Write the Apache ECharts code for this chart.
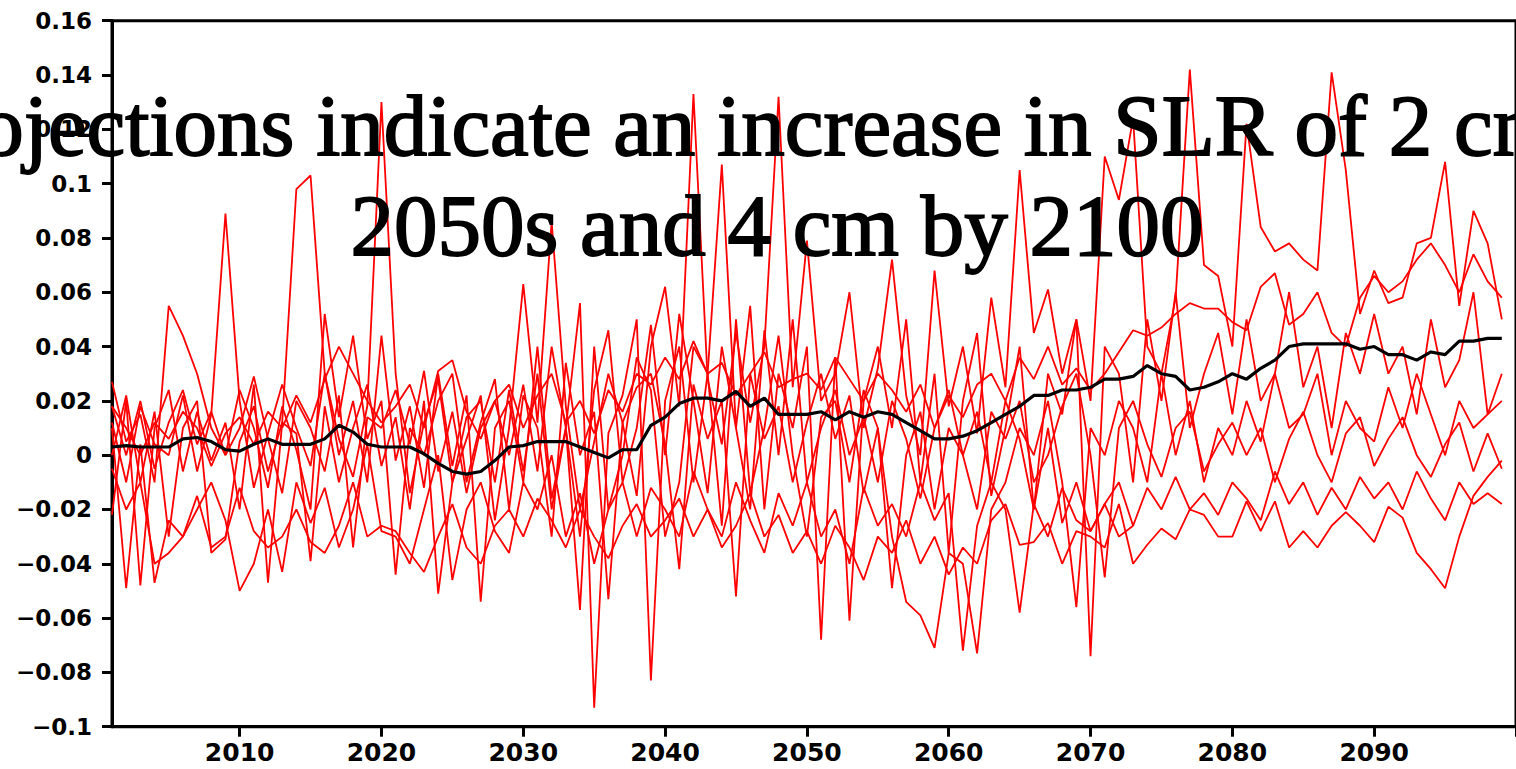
<!DOCTYPE html>
<html>
<head>
<meta charset="utf-8">
<script src="https://cdn.jsdelivr.net/npm/echarts@6/dist/echarts.min.js"></script>
<style>
html,body{margin:0;padding:0;background:#fff;}
#chart{width:1516px;height:769px;}
</style>
</head>
<body>
<div id="chart"></div>
<script>
// categories: years 2001..2100 (2100 has no data; it sets the axis end beyond the crop)
const years = [];
for (let y = 2001; y <= 2100; y++) years.push(String(y));

const yTickMin = -0.1, yTickMax = 0.16, yTickStep = 0.02;

const titleLine1 = 'Projections indicate an increase in SLR of 2 cm by';
const titleLine2 = '2050s and 4 cm by 2100';

// ensemble members (red), 2001..2099
const r1 = [0.012,-0.010,0.018,0.004,0.000,0.022,-0.006,0.015,0.089,0.020,
-0.012,0.008,0.026,0.010,-0.004,0.030,0.006,-0.008,0.018,0.130,
0.030,-0.014,0.012,0.028,-0.010,0.006,0.022,-0.024,0.010,0.063,
0.012,0.086,0.018,-0.020,0.005,0.030,0.012,-0.015,0.040,0.062,
0.018,0.133,0.028,0.004,0.045,0.012,0.040,0.132,0.025,0.079,
0.020,0.030,0.060,0.010,0.032,0.072,0.022,0.000,0.068,0.018,
0.040,0.008,0.058,0.025,0.105,0.045,0.061,0.030,0.050,0.020,
0.110,0.094,0.124,0.040,0.030,0.058,0.142,0.070,0.066,0.040,
0.122,0.084,0.075,0.078,0.072,0.068,0.141,0.105,0.052,0.068,
0.056,0.058,0.078,0.080,0.108,0.055,0.090,0.078,0.050];

const r2 = [-0.022,0.020,-0.048,0.010,0.024,-0.006,0.016,-0.002,0.012,-0.020,
0.026,-0.047,0.012,0.098,0.103,0.030,0.000,0.020,-0.010,0.044,
-0.002,0.018,-0.012,0.030,-0.004,0.022,-0.054,0.010,0.020,-0.010,
0.040,-0.016,0.010,0.056,-0.093,0.008,0.022,0.050,-0.083,0.020,
0.040,-0.010,0.030,0.107,0.010,0.055,-0.020,0.030,0.010,0.040,
-0.068,0.036,-0.061,0.020,0.040,0.010,0.050,-0.010,0.030,-0.036,
0.020,0.045,-0.015,0.010,0.040,-0.020,0.030,0.015,0.050,-0.074,
0.040,0.030,-0.010,0.050,0.020,0.060,0.010,0.030,0.045,0.015,
0.050,0.020,0.030,0.060,0.025,0.040,0.010,0.045,0.030,0.052,
0.030,0.040,0.015,0.050,0.025,0.035,0.060,0.015,0.030];

const r3 = [0.018,0.010,0.000,0.012,0.006,0.016,0.010,-0.004,0.008,0.014,
0.004,0.016,0.010,0.022,0.012,0.028,0.040,0.030,0.020,0.012,
0.018,0.026,0.010,0.031,0.035,0.016,0.006,0.020,0.026,0.010,
0.022,0.030,0.012,0.020,0.008,0.024,0.016,0.030,0.026,0.036,
0.028,0.042,0.030,0.034,0.022,0.030,0.038,0.025,0.028,0.030,
0.024,0.036,0.028,0.020,0.030,0.024,0.016,0.026,0.010,0.022,
0.014,0.026,0.030,0.020,0.036,0.028,0.040,0.026,0.032,0.024,
0.030,0.038,0.046,0.044,0.047,0.052,0.056,0.054,0.054,0.049,
0.046,0.062,0.067,0.048,0.052,0.060,0.045,0.040,0.058,0.066,
0.060,0.064,0.072,0.078,0.070,0.060,0.074,0.064,0.058];

const r4 = [0.027,0.005,0.015,-0.010,0.055,0.044,0.030,0.010,0.000,0.024,
0.010,-0.012,0.018,0.002,-0.020,0.052,0.014,0.044,0.006,0.020,
-0.044,0.010,0.000,0.020,0.030,-0.010,0.012,0.028,-0.020,0.022,
0.010,-0.030,0.034,0.000,0.016,-0.053,0.012,0.025,0.030,0.004,
-0.042,0.026,0.006,0.020,-0.052,0.030,0.006,0.018,-0.010,0.012,
0.030,0.006,0.022,-0.014,0.010,-0.030,-0.054,-0.059,-0.071,-0.036,
-0.040,-0.073,-0.020,-0.010,0.010,0.000,0.020,-0.010,-0.056,0.010,
0.000,0.020,0.010,-0.010,0.030,0.000,0.020,-0.010,0.010,0.000,
0.020,0.005,0.030,0.010,0.015,0.030,0.000,0.020,0.010,0.005,
0.025,0.010,0.030,0.015,0.000,0.020,0.010,0.015,0.020];

const r5 = [0.000,0.022,-0.010,0.016,-0.030,0.010,0.020,-0.036,-0.031,0.005,
0.018,-0.006,0.012,0.008,-0.039,0.018,-0.010,0.010,0.026,-0.004,
0.014,-0.020,0.020,-0.051,-0.010,0.014,0.020,-0.010,0.024,-0.006,
0.030,-0.020,0.010,-0.057,0.040,-0.020,0.000,0.036,0.024,-0.030,
-0.010,0.040,0.030,-0.026,0.050,-0.014,0.010,0.044,0.000,-0.030,
0.014,0.020,-0.010,0.024,0.010,-0.049,0.000,0.016,-0.020,0.010,
0.000,-0.020,0.016,0.006,0.020,-0.010,0.000,0.018,0.030,0.000,
-0.045,0.010,0.020,0.004,-0.008,0.010,0.016,-0.006,0.004,0.012,
0.000,0.010,-0.010,0.006,0.016,0.000,-0.010,0.008,0.014,-0.004,
0.006,0.014,0.000,-0.008,0.004,0.012,-0.006,0.008,-0.005];

const r6 = [0.010,-0.049,0.004,-0.047,-0.024,-0.030,-0.020,-0.010,-0.024,-0.050,
-0.040,-0.020,-0.043,-0.010,-0.025,-0.012,-0.034,-0.020,0.004,-0.028,
-0.030,-0.040,-0.020,0.000,-0.046,-0.020,-0.010,-0.028,-0.036,-0.010,
-0.020,0.000,-0.030,-0.014,-0.040,-0.020,-0.010,-0.030,-0.012,-0.020,
-0.030,-0.006,-0.020,-0.030,-0.010,-0.024,-0.036,-0.014,-0.026,-0.010,
-0.030,-0.020,-0.040,-0.012,-0.026,-0.018,-0.030,-0.010,-0.024,-0.014,
-0.072,-0.026,-0.010,-0.020,-0.058,-0.018,-0.030,-0.012,-0.024,-0.028,
-0.018,-0.010,-0.026,-0.012,-0.020,-0.008,-0.020,-0.014,-0.022,-0.010,
-0.016,-0.024,-0.006,-0.018,-0.010,-0.022,-0.012,-0.020,-0.008,-0.016,
-0.010,-0.020,-0.006,-0.016,-0.024,-0.010,-0.018,-0.014,-0.018];

const r7 = [-0.005,-0.020,-0.010,-0.040,-0.036,-0.030,-0.015,-0.034,-0.030,-0.012,
-0.028,-0.034,-0.030,-0.020,-0.032,-0.036,-0.026,-0.010,-0.030,-0.026,
-0.028,-0.036,-0.043,-0.030,-0.018,-0.034,-0.040,-0.026,-0.020,-0.030,
-0.016,-0.024,-0.034,-0.020,-0.030,-0.038,-0.026,-0.018,-0.030,-0.024,
-0.016,-0.030,-0.020,-0.034,-0.026,-0.014,-0.030,-0.022,-0.036,-0.028,
-0.040,-0.026,-0.034,-0.046,-0.030,-0.036,-0.024,-0.040,-0.030,-0.044,
-0.034,-0.040,-0.024,-0.018,-0.033,-0.032,-0.025,-0.040,-0.028,-0.030,
-0.034,-0.018,-0.040,-0.033,-0.027,-0.031,-0.020,-0.022,-0.030,-0.030,
-0.017,-0.028,-0.017,-0.034,-0.028,-0.034,-0.026,-0.021,-0.026,-0.032,
-0.019,-0.023,-0.036,-0.042,-0.049,-0.030,-0.015,-0.008,-0.002];

// this member ends in 2073
const r8 = [0.018,0.000,0.020,-0.005,0.012,0.024,0.004,0.016,0.000,0.010,
0.029,0.006,-0.014,0.020,0.010,-0.006,0.022,-0.034,0.014,0.010,
0.024,0.004,0.031,-0.006,0.016,-0.014,0.010,0.020,0.000,0.026,
-0.006,0.040,0.010,-0.030,0.024,0.046,-0.010,0.010,0.048,0.000,
0.052,0.020,-0.014,0.040,0.010,-0.020,0.046,0.000,0.050,-0.010,
0.010,0.024,0.000,0.014,-0.010,0.020,0.006,-0.016,0.010,0.024,
0.000,0.016,-0.010,0.020,0.006,-0.020,0.010,-0.025,-0.010,-0.028,
-0.018,-0.030,-0.026];

// smoothed mean (black), 2001..2099
const meanLine = [0.003,0.0035,0.003,0.003,0.003,0.006,0.0065,0.005,0.002,0.0015,
0.004,0.006,0.004,0.004,0.004,0.006,0.011,0.0085,0.004,0.003,
0.003,0.003,0.0005,-0.003,-0.006,-0.007,-0.006,-0.002,0.003,0.0035,
0.005,0.005,0.005,0.003,0.001,-0.001,0.002,0.002,0.011,0.014,
0.019,0.021,0.021,0.020,0.0235,0.018,0.021,0.015,0.015,0.015,
0.016,0.013,0.016,0.014,0.016,0.015,0.012,0.009,0.006,0.006,
0.007,0.009,0.012,0.015,0.018,0.022,0.022,0.024,0.024,0.025,
0.028,0.028,0.029,0.033,0.030,0.029,0.024,0.025,0.027,0.030,
0.028,0.032,0.035,0.040,0.041,0.041,0.041,0.041,0.039,0.040,
0.037,0.037,0.035,0.038,0.037,0.042,0.042,0.043,0.043];

const members = [r1, r2, r3, r4, r5, r6, r7, r8];

const chart = echarts.init(document.getElementById('chart'), null, {renderer: 'svg'});

const series = members.map((d, i) => ({
  name: 'member' + (i + 1),
  type: 'line',
  data: d,
  showSymbol: false,
  symbol: 'none',
  lineStyle: {color: '#ff0000', width: 1.8},
  z: 2,
  silent: true
}));
series.push({
  name: 'mean',
  type: 'line',
  data: meanLine,
  showSymbol: false,
  symbol: 'none',
  lineStyle: {color: '#000000', width: 3.2},
  z: 5,
  silent: true
});

const labelFont = 'DejaVu Sans';
const titleFont = '87px "Liberation Serif", "DejaVu Serif", serif';

chart.setOption({
  animation: false,
  backgroundColor: '#ffffff',
  grid: {
    left: 112, top: 20.7, width: 1425.6, height: 706,
    show: true, borderColor: '#000', borderWidth: 3, backgroundColor: 'transparent'
  },
  xAxis: {
    type: 'category',
    data: years,
    boundaryGap: false,
    axisLine: {show: true, onZero: false, lineStyle: {color: '#000', width: 3}},
    axisTick: {
      show: true, length: 10, inside: false,
      lineStyle: {color: '#000', width: 3},
      interval: (idx, val) => Number(val) % 10 === 0
    },
    axisLabel: {
      show: true, margin: 13,
      interval: (idx, val) => Number(val) % 10 === 0 && Number(val) < 2100,
      color: '#000', fontFamily: labelFont, fontWeight: 'bold', fontSize: 25
    },
    splitLine: {show: false}
  },
  yAxis: {
    type: 'value',
    min: yTickMin, max: yTickMax, interval: yTickStep,
    axisLine: {show: true, onZero: false, lineStyle: {color: '#000', width: 3}},
    axisTick: {show: true, length: 10, inside: false, lineStyle: {color: '#000', width: 3}},
    axisLabel: {
      show: true, margin: 20,
      color: '#000', fontFamily: labelFont, fontWeight: 'bold', fontSize: 23,
      formatter: v => String(Math.round(v * 100) / 100).replace('-', '\u2212')
    },
    splitLine: {show: false}
  },
  graphic: [
    {type: 'text', z: 100, silent: true,
     style: {text: titleLine1, x: 786, y: 125.5, align: 'center', verticalAlign: 'middle', font: titleFont,
             fill: '#000', stroke: '#000', lineWidth: 1.8}},
    {type: 'text', z: 100, silent: true,
     style: {text: titleLine2, x: 777, y: 225.5, align: 'center', verticalAlign: 'middle', font: titleFont,
             fill: '#000', stroke: '#000', lineWidth: 1.8}}
  ],
  series: series
});
</script>
</body>
</html>
